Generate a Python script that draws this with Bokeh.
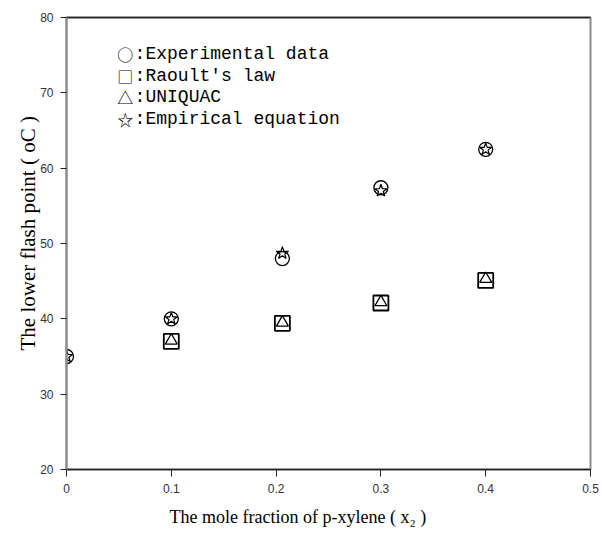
from bokeh.plotting import figure
from bokeh.models import Range1d, LinearAxis, FixedTicker, Title
from bokeh.models import Label
from bokeh.embed import file_html
from bokeh.resources import INLINE

# ---- data ----
x_exp = [0.0, 0.1, 0.206, 0.3, 0.4]
y_exp = [35.0, 40.0, 48.0, 57.4, 62.5]

x_model = [0.1, 0.206, 0.3, 0.4]
y_raoult = [37.0, 39.4, 42.1, 45.1]
y_uniquac = [37.1, 39.5, 42.2, 45.3]

x_emp = [0.0, 0.1, 0.206, 0.3, 0.4]
y_emp = [35.0, 40.0, 48.7, 57.0, 62.5]

x_ticks = [0, 0.1, 0.2, 0.3, 0.4, 0.5]
x_tick_labels = ["0", "0.1", "0.2", "0.3", "0.4", "0.5"]
y_ticks = [20, 30, 40, 50, 60, 70, 80]

legend_symbols = ["○", "□", "△", "☆"]
legend_texts = [":Experimental data", ":Raoult's law", ":UNIQUAC", ":Empirical equation"]
x_label = "The mole fraction of p-xylene ( x₂ )"
y_label = "The lower flash point ( oC )"

p = figure(width=600, height=537, x_range=Range1d(0, 0.5), y_range=Range1d(20, 80),
           output_backend="svg", toolbar_location=None,
           min_border_left=66, min_border_right=10, min_border_top=17, min_border_bottom=68)
p.background_fill_color = "white"
p.border_fill_color = "white"
p.outline_line_color = "#8c8c8c"
p.outline_line_width = 2
p.xgrid.visible = False
p.ygrid.visible = False

xa = p.xaxis[0]
xa.ticker = FixedTicker(ticks=x_ticks)
xa.major_label_overrides = dict(zip(x_ticks, x_tick_labels))
xa.axis_line_color = "#222222"
xa.axis_line_width = 1.5
xa.major_tick_line_color = "#222222"
xa.major_tick_in = 0
xa.major_tick_out = 7
xa.minor_tick_line_color = None
xa.major_label_standoff = 7
xa.major_label_text_font = "Liberation Sans"
xa.major_label_text_font_size = "12px"
xa.major_label_text_color = "#333333"

ya = p.yaxis[0]
ya.ticker = FixedTicker(ticks=y_ticks)
ya.axis_line_color = "#8c8c8c"
ya.axis_line_width = 2
ya.major_tick_line_color = "#222222"
ya.major_tick_in = 0
ya.major_tick_out = 6
ya.minor_tick_line_color = None
ya.major_label_standoff = 7
ya.major_label_text_font = "Liberation Sans"
ya.major_label_text_font_size = "12px"
ya.major_label_text_color = "#333333"

top = LinearAxis(ticker=FixedTicker(ticks=[]), axis_line_color="#222222", axis_line_width=1.5,
                 major_tick_out=0, major_tick_in=0, minor_tick_out=0, minor_tick_in=0,
                 major_label_text_font_size="0px")
p.add_layout(top, "above")

# axis titles, placed as in the original (slightly off-centre)
p.add_layout(Title(text=x_label, align="left", offset=103, standoff=18,
                   text_font="Liberation Serif", text_font_size="18px",
                   text_font_style="normal", text_color="black"), "below")
p.add_layout(Title(text=y_label, align="left", offset=119, standoff=-4,
                   text_font="Liberation Serif", text_font_size="21px",
                   text_font_style="normal", text_color="black"), "left")

# markers
p.scatter(x_exp, y_exp, marker="circle", size=14, fill_color=None, line_color="black", line_width=1.3)
p.scatter(x_model, y_raoult, marker="square", size=15, fill_color=None, line_color="black", line_width=1.8)
p.scatter(x_model, y_uniquac, marker="triangle", size=12, fill_color=None, line_color="black", line_width=1.3)
p.scatter(x_emp, y_emp, marker="star", size=13, fill_color=None, line_color="black", line_width=1.2)

# legend drawn as text, as in the original
sym_x = 0.0485
txt_x = 0.0650
legend_y = [75.1, 72.2, 69.4, 66.5]
for sym, txt, ly in zip(legend_symbols, legend_texts, legend_y):
    p.add_layout(Label(x=sym_x, y=ly, text=sym, text_font="Noto Sans CJK SC",
                       text_font_size="16px", text_baseline="middle", text_color="black"))
    p.add_layout(Label(x=txt_x, y=ly, text=txt, text_font="Liberation Mono",
                       text_font_size="18px", text_baseline="middle", text_color="black"))

open("out.html", "w").write(file_html(p, INLINE))
